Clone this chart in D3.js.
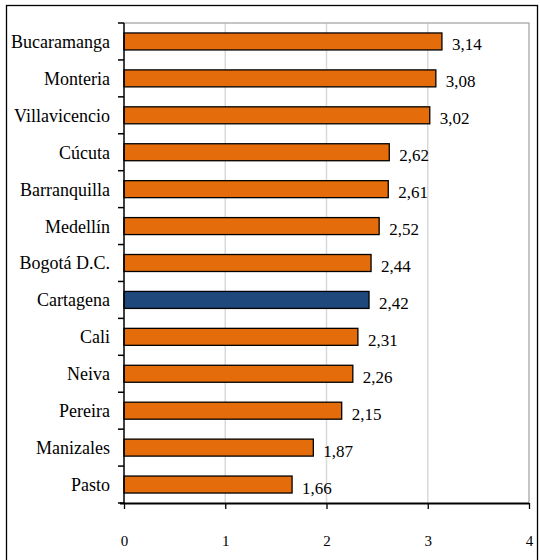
<!DOCTYPE html>
<html>
<head>
<meta charset="utf-8">
<script src="https://cdn.jsdelivr.net/npm/d3@7"></script>
</head>
<body style="margin:0">
<svg id="chart" width="540" height="560" font-family="Liberation Serif" style="font-family: 'Liberation Serif'"></svg>
<script>
// Cities and their values (top to bottom)
const cities = ["Bucaramanga", "Monteria", "Villavicencio", "Cúcuta", "Barranquilla",
  "Medellín", "Bogotá D.C.", "Cartagena", "Cali", "Neiva", "Pereira", "Manizales", "Pasto"];
const values = [3.14, 3.08, 3.02, 2.62, 2.61, 2.52, 2.44, 2.42, 2.31, 2.26, 2.15, 1.87, 1.66];
const highlighted = ["Cartagena"];
const xTicks = [0, 1, 2, 3, 4];

(function () {
  const rows = cities.map((c, i) => ({ city: c, value: values[i] }));
  const FONT = "Liberation Serif";

  const svg = d3.select("#chart");
  const plotL = 124, plotR = 529, plotT = 23, plotB = 503;

  const x = d3.scaleLinear().domain([0, 4]).range([plotL, plotR]);
  const y = d3.scaleBand().domain(cities).range([plotT, plotB]).paddingInner(0.54).paddingOuter(0.27);

  // outer frame
  svg.append("rect")
    .attr("x", 6.5).attr("y", 5.5).attr("width", 531).attr("height", 570)
    .attr("fill", "none").attr("stroke", "#000").attr("stroke-width", 1.3);

  // vertical gridlines
  svg.append("g").selectAll("line")
    .data(xTicks.filter(t => t > 0 && t < 4))
    .join("line")
    .attr("x1", d => x(d)).attr("x2", d => x(d))
    .attr("y1", plotT).attr("y2", plotB)
    .attr("stroke", "#d9d9d9").attr("stroke-width", 1.5);

  // plot area border (top and right)
  svg.append("path")
    .attr("d", `M${plotL},${plotT}H${plotR}V${plotB}`)
    .attr("fill", "none").attr("stroke", "#b3b3b3").attr("stroke-width", 1.5);

  // bars
  svg.append("g").selectAll("rect")
    .data(rows)
    .join("rect")
    .attr("x", x(0))
    .attr("y", d => y(d.city))
    .attr("width", d => x(d.value) - x(0))
    .attr("height", y.bandwidth())
    .attr("fill", d => highlighted.includes(d.city) ? "#1f497d" : "#e46c0a")
    .attr("stroke", "#000").attr("stroke-width", 1.3);

  // value labels
  svg.append("g").selectAll("text")
    .data(rows)
    .join("text")
    .attr("x", d => x(d.value) + 10)
    .attr("y", d => y(d.city) + y.bandwidth() / 2 + 9)
    .attr("font-family", FONT).attr("font-size", 17).attr("fill", "#000")
    .text(d => d3.format(".2f")(d.value).replace(".", ","));

  // category axis: tick marks sit on band boundaries
  const boundaries = d3.range(cities.length + 1).map(i => plotT + i * (plotB - plotT) / cities.length);
  const yAxis = svg.append("g");
  yAxis.append("line")
    .attr("x1", plotL).attr("x2", plotL).attr("y1", plotT).attr("y2", plotB)
    .attr("stroke", "#000").attr("stroke-width", 1.5);
  yAxis.selectAll("line.tick")
    .data(boundaries)
    .join("line").attr("class", "tick")
    .attr("x1", plotL - 6).attr("x2", plotL).attr("y1", d => d).attr("y2", d => d)
    .attr("stroke", "#000").attr("stroke-width", 1.5);
  yAxis.selectAll("text")
    .data(cities)
    .join("text")
    .attr("x", 110)
    .attr("y", d => y(d) + y.bandwidth() / 2)
    .attr("dy", "0.36em")
    .attr("text-anchor", "end")
    .attr("font-family", FONT).attr("font-size", 18).attr("fill", "#000")
    .text(d => d);

  // value axis
  const xAxis = svg.append("g")
    .attr("transform", `translate(0,${plotB})`)
    .call(d3.axisBottom(x).tickValues(xTicks).tickFormat(d3.format("d"))
      .tickSize(6).tickSizeOuter(0).tickPadding(26));
  xAxis.attr("font-family", FONT).attr("font-size", 15);
  xAxis.select(".domain").attr("stroke", "#000").attr("stroke-width", 2)
    .attr("d", `M${plotL - 4},0.5H${plotR}`);
  xAxis.selectAll(".tick line").attr("stroke", "#000").attr("stroke-width", 1.3);
  xAxis.selectAll(".tick text").attr("font-family", FONT).attr("fill", "#000");
})();
</script>
</body>
</html>
